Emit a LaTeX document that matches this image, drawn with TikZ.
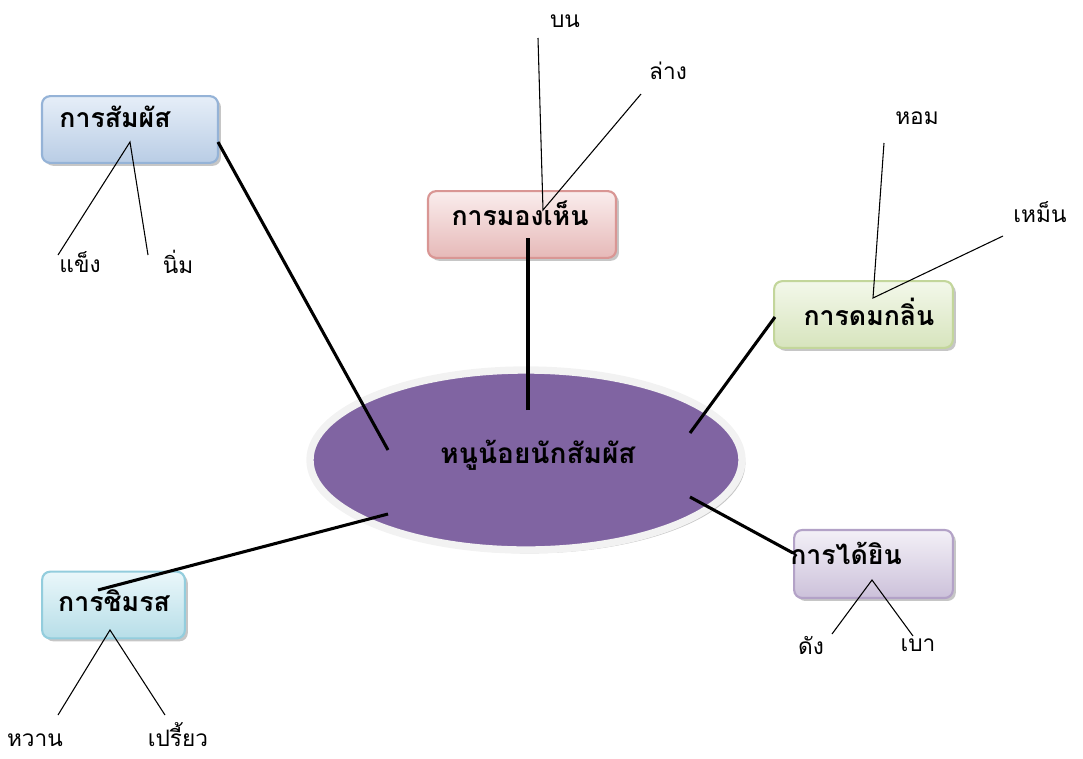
\documentclass[tikz,border=0pt]{standalone}
\usepackage{fontspec}
\newfontfamily\thai[Script=Thai]{Loma}
\usetikzlibrary{shadows,shapes.geometric}
\definecolor{hubfill}{HTML}{8064A2}
\definecolor{hubrim}{HTML}{F2F2F2}
\definecolor{bluetop}{HTML}{E6EEF8}\definecolor{bluebot}{HTML}{B9CDE5}\definecolor{bluerim}{HTML}{95B3D7}
\definecolor{redtop}{HTML}{FAEDED}\definecolor{redbot}{HTML}{E6B9B8}\definecolor{redrim}{HTML}{D99694}
\definecolor{greentop}{HTML}{F3F8EA}\definecolor{greenbot}{HTML}{D7E4BD}\definecolor{greenrim}{HTML}{C3D69B}
\definecolor{purptop}{HTML}{F3F0F7}\definecolor{purpbot}{HTML}{CCC1DA}\definecolor{purprim}{HTML}{B3A2C7}
\definecolor{cyantop}{HTML}{EAF7FA}\definecolor{cyanbot}{HTML}{B7DEE8}\definecolor{cyanrim}{HTML}{93CDDD}
\tikzset{
  sensebox/.style={rectangle, rounded corners=6pt, line width=1.6pt, inner sep=0pt,
    drop shadow={opacity=0.45, shadow xshift=2.2pt, shadow yshift=-2.2pt}},
  boxtext/.style={font=\thai\bfseries\fontsize{20}{24}\selectfont, inner sep=0pt},
  leaf/.style={font=\thai\fontsize{17}{20}\selectfont, inner sep=0pt},
  hub/.style={ellipse, fill=hubfill, draw=hubrim, line width=5.5pt, minimum width=324pt, minimum height=135pt,
    drop shadow={opacity=0.45, shadow xshift=2.5pt, shadow yshift=-2.5pt}},
  thicklink/.style={line width=2.3pt, black},
  thinlink/.style={line width=0.8pt, black}
}
\begin{document}
\begin{tikzpicture}[x=0.75pt,y=-0.75pt]
\useasboundingbox (0,0) rectangle (1083,758);
% hub
\node[hub] (hub) at (526,460) {};
\node[font=\thai\bfseries\fontsize{21}{25}\selectfont, inner sep=0pt] (hubtext) at (538,455) {หนูน้อยนักสัมผัส};
% boxes
\node[sensebox, draw=bluerim, top color=bluetop, bottom color=bluebot, minimum width=132pt, minimum height=50pt] (touch) at (130,129.5) {};
\node[sensebox, draw=redrim, top color=redtop, bottom color=redbot, minimum width=141pt, minimum height=50pt] (see) at (522,224.5) {};
\node[sensebox, draw=greenrim, top color=greentop, bottom color=greenbot, minimum width=134pt, minimum height=50pt] (smell) at (863.5,314.5) {};
\node[sensebox, draw=purprim, top color=purptop, bottom color=purpbot, minimum width=119pt, minimum height=51pt] (hear) at (873.5,564) {};
\node[sensebox, draw=cyanrim, top color=cyantop, bottom color=cyanbot, minimum width=107pt, minimum height=50pt] (taste) at (113.5,605) {};
% box texts
\node[boxtext] (touchtext) at (115,117) {การสัมผัส};
\node[boxtext] (seetext) at (520,213) {การมองเห็น};
\node[boxtext] (smelltext) at (869,312) {การดมกลิ่น};
\node[boxtext] (heartext) at (846,553) {การได้ยิน};
\node[boxtext] (tastetext) at (114,601) {การชิมรส};
% leaves
\node[leaf] (bon) at (565,21) {บน};
\node[leaf] (lang) at (668,71) {ล่าง};
\node[leaf] (hom) at (917,118) {หอม};
\node[leaf] (men) at (1040,212) {เหม็น};
\node[leaf] (khaeng) at (80,262) {แข็ง};
\node[leaf] (nim) at (178,262) {นิ่ม};
\node[leaf] (dang) at (811,645) {ดัง};
\node[leaf] (bao) at (918,645) {เบา};
\node[leaf] (wan) at (35,740) {หวาน};
\node[leaf] (priao) at (178,735) {เปรี้ยว};
% thick link endpoints
\coordinate (h1) at (388,450); \coordinate (b1) at (218,142);
\coordinate (h2) at (528,410); \coordinate (b2) at (528,238);
\coordinate (h3) at (690,433); \coordinate (b3) at (775,317);
\coordinate (h4) at (690,497); \coordinate (b4) at (793,553);
\coordinate (h5) at (388,514); \coordinate (b5) at (98,590);
\draw[thicklink] (h1) -- (b1);
\draw[thicklink] (h2) -- (b2);
\draw[thicklink] (h3) -- (b3);
\draw[thicklink] (h4) -- (b4);
\draw[thicklink] (h5) -- (b5);
% thin link endpoints
\coordinate (t1) at (130,142); \coordinate (l1a) at (58,255); \coordinate (l1b) at (148,255);
\coordinate (t2) at (543,210); \coordinate (l2a) at (538,38); \coordinate (l2b) at (641,94);
\coordinate (t3) at (873,298); \coordinate (l3a) at (884,143); \coordinate (l3b) at (1003,236);
\coordinate (t4) at (872,580); \coordinate (l4a) at (832,634); \coordinate (l4b) at (913,636);
\coordinate (t5) at (110,630); \coordinate (l5a) at (58,715); \coordinate (l5b) at (165,715);
\draw[thinlink] (l1a) -- (t1) -- (l1b);
\draw[thinlink] (l2a) -- (t2) -- (l2b);
\draw[thinlink] (l3a) -- (t3) -- (l3b);
\draw[thinlink] (l4a) -- (t4) -- (l4b);
\draw[thinlink] (l5a) -- (t5) -- (l5b);
\end{tikzpicture}
\end{document}
